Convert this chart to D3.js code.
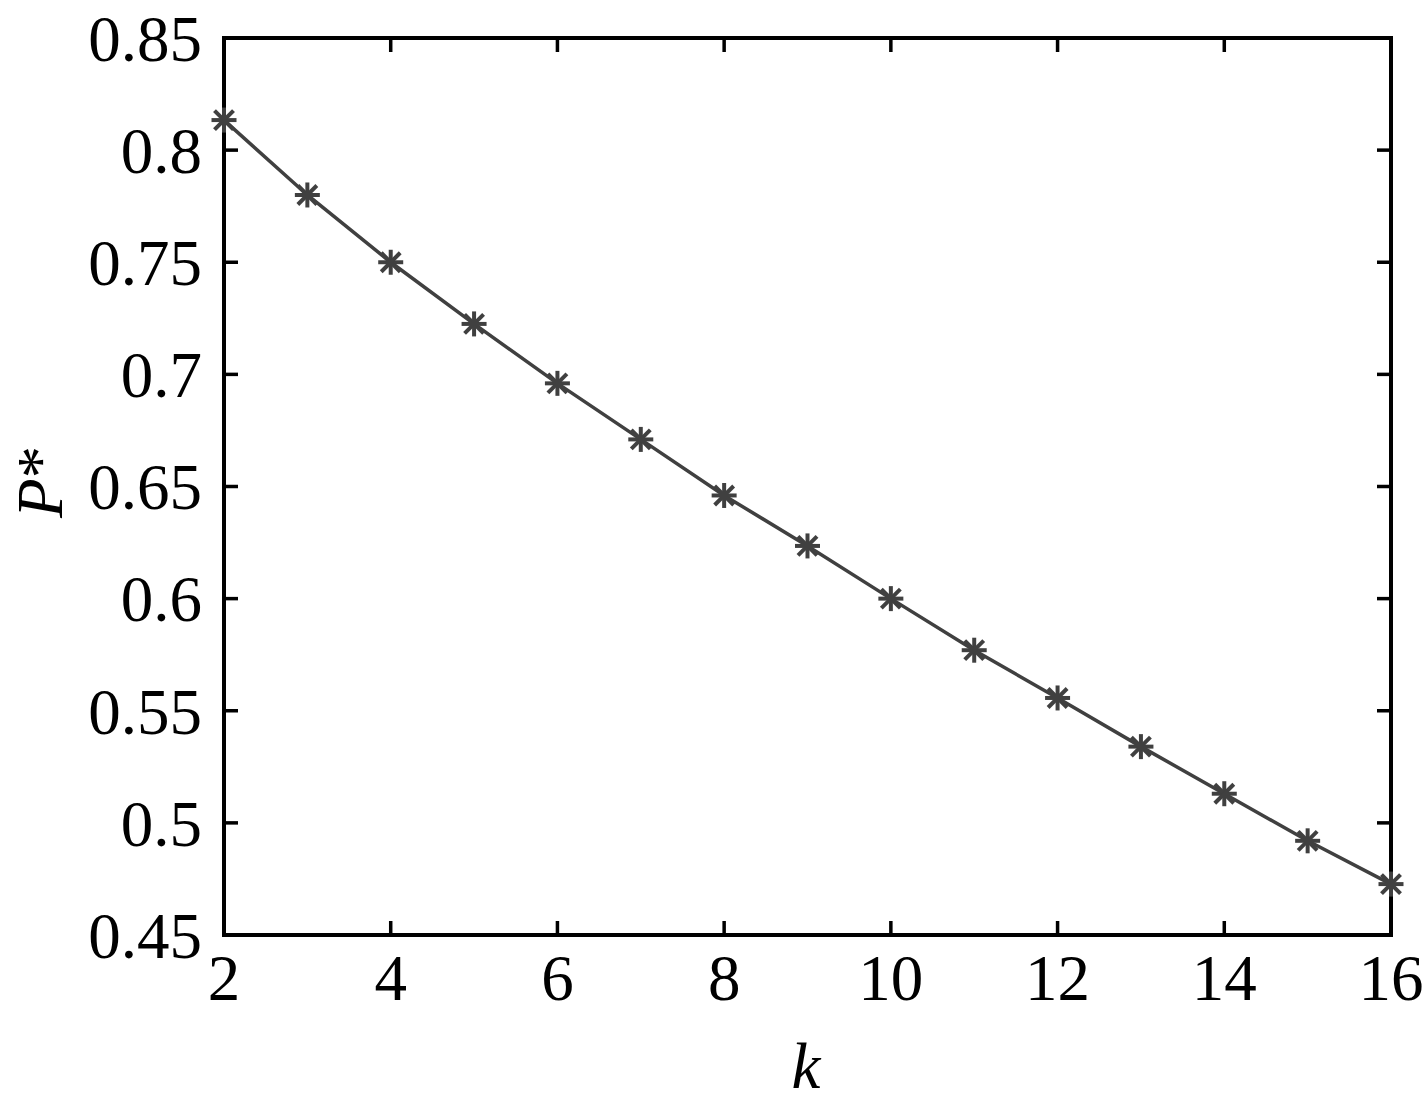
<!DOCTYPE html>
<html><head><meta charset="utf-8">
<script src="https://cdn.jsdelivr.net/npm/d3@7"></script>
<style>body{margin:0;background:#fff}svg{display:block}text{font-family:"Liberation Serif","DejaVu Serif",serif;fill:#000}</style>
</head><body>
<svg id="c" width="1425" height="1112"></svg>
<script>
const kValues = [2,3,4,5,6,7,8,9,10,11,12,13,14,15,16];
const pStar = [0.8134,0.780,0.750,0.7225,0.696,0.671,0.646,0.6235,0.600,0.577,0.5557,0.534,0.513,0.492,0.4727];
const xTicks = [2,4,6,8,10,12,14,16];
const yTicks = [0.45,0.5,0.55,0.6,0.65,0.7,0.75,0.8,0.85];
const yTickLabels = ["0.45","0.5","0.55","0.6","0.65","0.7","0.75","0.8","0.85"];

const svg = d3.select("#c");
const L=224,R=1391,T=38,B=935;
const x = d3.scaleLinear().domain([2,16]).range([L,R]);
const y = d3.scaleLinear().domain([0.45,0.85]).range([B,T]);
const tl = 14, fs = 65;

const g = svg.append("g");
xTicks.forEach(t=>{
  g.append("line").attr("x1",x(t)).attr("x2",x(t)).attr("y1",B).attr("y2",B-tl).attr("stroke","#000").attr("stroke-width",3.5);
  g.append("line").attr("x1",x(t)).attr("x2",x(t)).attr("y1",T).attr("y2",T+tl).attr("stroke","#000").attr("stroke-width",3.5);
  g.append("text").attr("x",x(t)).attr("y",1000).attr("text-anchor","middle").attr("font-size",fs).text(t);
});
yTicks.forEach((t,i)=>{
  g.append("line").attr("x1",L).attr("x2",L+tl).attr("y1",y(t)).attr("y2",y(t)).attr("stroke","#000").attr("stroke-width",3.5);
  g.append("line").attr("x1",R).attr("x2",R-tl).attr("y1",y(t)).attr("y2",y(t)).attr("stroke","#000").attr("stroke-width",3.5);
  g.append("text").attr("x",202).attr("y",y(t)).attr("dy","0.35em").attr("text-anchor","end").attr("font-size",fs).text(yTickLabels[i]);
});

svg.append("rect").attr("x",L).attr("y",T).attr("width",R-L).attr("height",B-T).attr("fill","none").attr("stroke","#000").attr("stroke-width",4);

const col="#404040";
svg.append("path").datum(kValues.map((k,i)=>[k,pStar[i]]))
  .attr("d",d3.line().x(d=>x(d[0])).y(d=>y(d[1])))
  .attr("fill","none").attr("stroke",col).attr("stroke-width",3.5);

const s=12.5, sd=9.5;
const mk = svg.append("g");
kValues.forEach((k,i)=>{
  const cx=x(k), cy=y(pStar[i]);
  const m = mk.append("g").attr("transform",`translate(${cx},${cy})`).attr("stroke",col).attr("stroke-width",4);
  m.append("line").attr("x1",-s).attr("x2",s).attr("y1",0).attr("y2",0);
  m.append("line").attr("x1",0).attr("x2",0).attr("y1",-s).attr("y2",s);
  m.append("line").attr("x1",-sd).attr("x2",sd).attr("y1",-sd).attr("y2",sd);
  m.append("line").attr("x1",-sd).attr("x2",sd).attr("y1",sd).attr("y2",-sd);
});

svg.append("text").attr("x",806).attr("y",1088).attr("text-anchor","middle").attr("font-size",fs).attr("font-style","italic").text("k");
const yl = svg.append("text").attr("transform","translate(62,482) rotate(-90)").attr("text-anchor","middle").attr("font-size",fs);
yl.append("tspan").attr("font-style","italic").text("P");
yl.append("tspan").text("*");
</script>
</body></html>
